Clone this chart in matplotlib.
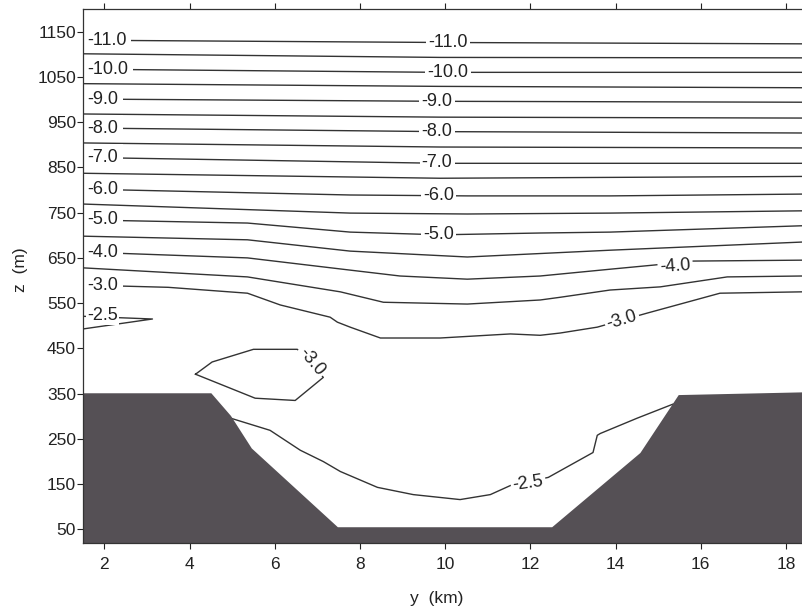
import matplotlib
matplotlib.use("Agg")
import matplotlib.pyplot as plt

plt.rcParams['font.family'] = ['Liberation Sans', 'DejaVu Sans']

# ---------------- data (y in km, z in m) ----------------
# nearly straight upper contours: value at left edge, middle, right edge
upper_levels = [-11.0, -10.5, -10.0, -9.5, -9.0, -8.5, -8.0, -7.5, -7.0, -6.5]
upper_y = [1.5, 9.88, 18.375]
upper_z_left = [1131, 1101, 1067, 1035, 1001, 968, 937, 904, 872, 837]
upper_z_mid = [1126, 1093, 1060, 1029, 996, 961, 929, 895, 859, 826]
upper_z_right = [1123, 1092, 1060, 1026, 994, 959, 926, 893, 859, 830]

c60_y = [1.5, 7.77, 10.52, 13.87, 18.375]
c60_z = [802, 789, 787, 787, 791]
c55_y = [1.5, 7.77, 10.52, 13.87, 18.375]
c55_z = [769, 749, 747, 749, 754]
c50_y = [1.5, 5.36, 7.77, 9.88, 12.23, 13.87, 18.375]
c50_z = [734, 727, 707, 701, 705, 707, 721]
c45_y = [1.5, 5.36, 7.77, 10.52, 13.87, 18.375]
c45_z = [698, 690, 665, 652, 667, 685]
c40_y = [1.5, 5.36, 7.77, 8.94, 10.52, 12.23, 13.87, 14.88, 15.82, 18.375]
c40_z = [663, 650, 623, 610, 603, 610, 625, 634, 643, 645]
c35_y = [1.5, 5.36, 7.54, 8.55, 10.52, 12.23, 12.70, 13.87, 15.05, 16.62, 18.375]
c35_z = [628, 608, 575, 552, 548, 557, 563, 579, 586, 608, 610]
c30_y = [1.5, 3.5, 5.36, 6.13, 7.30, 7.47, 7.77, 8.48, 9.88, 11.53, 12.23,
         12.70, 13.57, 14.74, 16.45, 18.375]
c30_z = [590, 585, 572, 546, 519, 508, 497, 473, 473, 482, 479,
         484, 497, 528, 572, 575]
# -2.5 wedge at the left edge
c25w_y = [1.5, 3.13, 1.5]
c25w_z = [521, 515, 493]
# closed -3.0 contour above the left slope
c30loop_y = [4.14, 4.53, 5.50, 6.53, 7.14, 6.48, 5.54, 4.14]
c30loop_z = [393, 420, 448, 448, 386, 335, 340, 393]
# -2.5 contour in the valley
c25_y = [4.96, 5.89, 6.60, 7.14, 7.54, 8.41, 9.25, 10.35, 11.06, 11.53,
         12.42, 13.47, 13.57, 13.64, 14.51, 15.35]
c25_z = [296, 269, 225, 200, 178, 143, 127, 116, 127, 147,
         165, 220, 258, 262, 296, 327]

# terrain (ridge - valley - ridge)
terrain_y = [1.5, 4.5, 4.96, 5.45, 7.47, 12.5, 14.57, 15.47, 18.375]
terrain_z = [352, 352, 302, 230, 56, 56, 220, 348, 354]

# contour labels at the left edge (left-aligned)
left_text = ['-11.0', '-10.0', '-9.0', '-8.0', '-7.0', '-6.0', '-5.0', '-4.0', '-3.0', '-2.5']
left_y = 1.60
left_z = [1131, 1067, 1001, 937, 872, 802, 734, 663, 590, 523]

# contour labels inside the field (centred)
lab_text = ['-11.0', '-10.0', '-9.0', '-8.0', '-7.0', '-6.0', '-5.0',
            '-4.0', '-3.0', '-3.0', '-2.5']
lab_y = [10.07, 10.07, 9.81, 9.81, 9.81, 9.84, 9.84,
         15.40, 14.15, 6.86, 11.95]
lab_z = [1125, 1060, 996, 929, 860, 787, 701,
         632, 513, 420, 152]
lab_rot = [0, 0, 0, 0, 0, 0, 0,
           4, 17, -50, 8]

x_ticks = [2, 4, 6, 8, 10, 12, 14, 16, 18]
z_ticks = [50, 150, 250, 350, 450, 550, 650, 750, 850, 950, 1050, 1150]

# ---------------- figure ----------------
fig = plt.figure(figsize=(8.02, 6.07), dpi=100)
ax = fig.add_axes([0.1035, 0.1054, 0.8965, 0.8798])

lc = '#333333'
lw = 1.0
for i in range(len(upper_levels)):
    ax.plot(upper_y, [upper_z_left[i], upper_z_mid[i], upper_z_right[i]],
            color=lc, lw=lw, zorder=2)
for yy, zz in [(c60_y, c60_z), (c55_y, c55_z), (c50_y, c50_z), (c45_y, c45_z),
               (c40_y, c40_z), (c35_y, c35_z), (c30_y, c30_z), (c25w_y, c25w_z),
               (c30loop_y, c30loop_z), (c25_y, c25_z)]:
    ax.plot(yy, zz, color=lc, lw=lw, zorder=2)

ax.fill_between(terrain_y, terrain_z, 0, color='#555055', lw=0, zorder=3)

box = dict(boxstyle='square,pad=0.12', fc='white', ec='none')
for i, (t, zz) in enumerate(zip(left_text, left_z)):
    pad = 0.25 if i < len(left_text) - 1 else 0.05
    ax.text(left_y, zz, t, ha='left', va='center', fontsize=13,
            color='#222222', zorder=4,
            bbox=dict(boxstyle='square,pad=%.2f' % pad, fc='white', ec='none'))
for t, yy, zz, r in zip(lab_text, lab_y, lab_z, lab_rot):
    ax.text(yy, zz, t, ha='center', va='center', rotation=r, fontsize=13,
            color='#222222', zorder=4, bbox=box)

ax.set_xlim(1.5, 18.375)
ax.set_ylim(20, 1200)
ax.set_xticks(x_ticks)
ax.set_yticks(z_ticks)
ax.tick_params(direction='out', length=4, width=0.8, labelsize=12.5,
               colors='#222222', top=True, labeltop=False, right=False)
ax.tick_params(axis='y', pad=1)
ax.tick_params(axis='x', pad=6)
for s in ['left', 'top', 'bottom']:
    ax.spines[s].set_linewidth(0.9)
    ax.spines[s].set_color('#333333')
    ax.spines[s].set_zorder(5)
ax.spines['right'].set_visible(False)

fig.text(437 / 802, 1 - 598 / 607, 'y  (km)', ha='center', va='center',
         fontsize=12.5, color='#222222')
fig.text(20 / 802, 1 - 270 / 607, 'z  (m)', ha='center', va='center',
         rotation=90, fontsize=12.5, color='#222222')

fig.savefig('out.png', dpi=100, facecolor='white')
